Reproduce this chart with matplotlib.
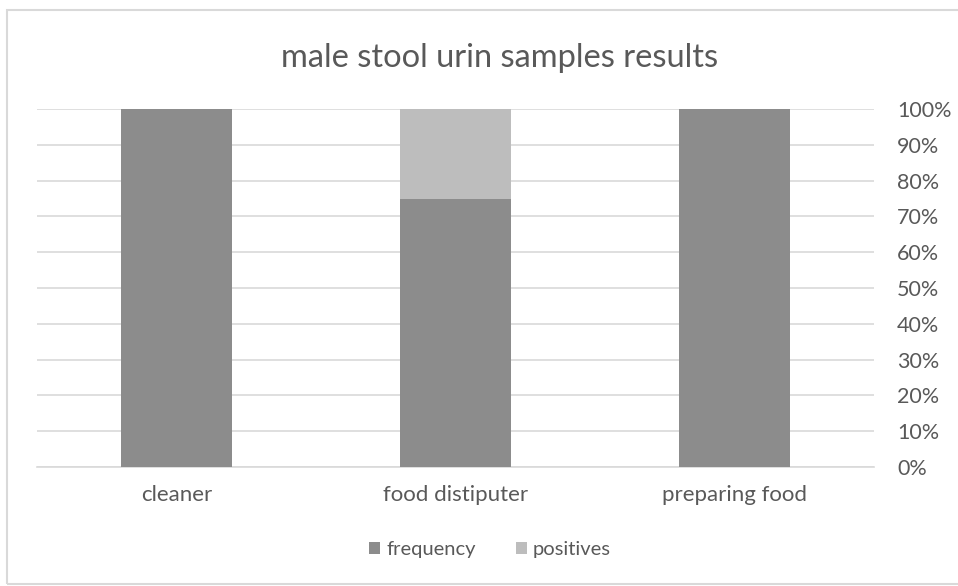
import matplotlib.pyplot as plt
from matplotlib.patches import Rectangle
from matplotlib.ticker import PercentFormatter

plt.rcParams["font.family"] = ["Lato", "DejaVu Sans"]

categories = ["cleaner", "food distiputer", "preparing food"]
frequency = [100, 75, 100]
positives = [0, 25, 0]
yticks = list(range(0, 101, 10))

text_color = "#595959"
grid_color = "#d9d9d9"

fig = plt.figure(figsize=(9.58, 5.86), dpi=100)
ax = fig.add_axes([37 / 958, 1 - 467 / 586, 837 / 958, 358 / 586])

x = range(len(categories))
ax.bar(x, frequency, width=0.40, color="#8c8c8c", label="frequency", zorder=3)
ax.bar(x, positives, width=0.40, bottom=frequency, color="#bdbdbd",
       label="positives", zorder=3)

ax.set_xlim(-0.5, 2.5)
ax.set_ylim(0, 100)
ax.set_yticks(yticks)
ax.yaxis.set_major_formatter(PercentFormatter(decimals=0))
ax.yaxis.tick_right()
ax.tick_params(axis="y", length=0, pad=16.5, labelsize=15.5, labelcolor=text_color)
ax.set_xticks(list(x))
ax.set_xticklabels(categories)
ax.tick_params(axis="x", length=0, pad=13, labelsize=16, labelcolor=text_color)
ax.grid(axis="y", color=grid_color, linewidth=1.2, zorder=0)
for side in ["top", "left", "right"]:
    ax.spines[side].set_visible(False)
ax.spines["bottom"].set_color(grid_color)
ax.spines["bottom"].set_linewidth(1.2)

fig.text(500 / 958, 1 - 58 / 586, "male stool urin samples results", ha="center",
         va="center", fontsize=23.5, color=text_color)

leg = fig.legend(loc="center", bbox_to_anchor=(490 / 958, 1 - 550 / 586), ncol=2,
                 frameon=False, fontsize=14.5, handlelength=0.55,
                 handleheight=0.55, handletextpad=0.3, columnspacing=2.0)
for t in leg.get_texts():
    t.set_color(text_color)

# outer chart frame
fig.patches.append(Rectangle((7 / 958, 2 / 586), 960 / 958, 574 / 586,
                             transform=fig.transFigure, fill=False,
                             edgecolor="#d9d9d9", linewidth=1.5))

fig.savefig("out.png", dpi=100)
